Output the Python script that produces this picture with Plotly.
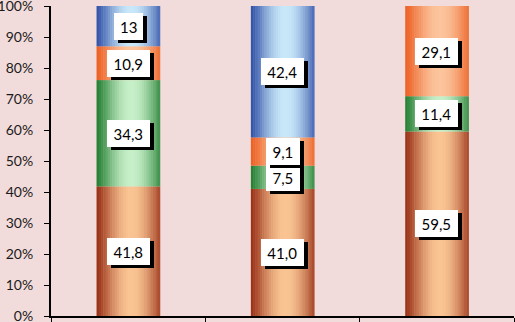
import plotly.graph_objects as go

categories = [1, 2, 3]
series_names = ["Copper", "Green", "Orange", "Blue"]
copper = [41.8, 41.0, 59.5]
green = [34.3, 7.5, 11.4]
orange = [10.9, 9.1, 29.1]
blue = [13.0, 42.4, 0.0]
copper_labels = ["41,8", "41,0", "59,5"]
green_labels = ["34,3", "7,5", "11,4"]
orange_labels = ["10,9", "9,1", "29,1"]
blue_labels = ["13", "42,4", ""]
y_ticks = [0, 10, 20, 30, 40, 50, 60, 70, 80, 90, 100]
y_tick_text = ["0%", "10%", "20%", "30%", "40%", "50%", "60%", "70%", "80%", "90%", "100%"]

series = [copper, green, orange, blue]
labels = [copper_labels, green_labels, orange_labels, blue_labels]
# (dark edge colour, light centre colour)
palette = [
    ((152, 48, 22), (250, 196, 146)),
    ((36, 126, 50), (198, 240, 200)),
    ((236, 96, 36), (252, 196, 156)),
    ((50, 82, 168), (200, 232, 250)),
]

BG = "#F2DCDB"
W = 0.41
N = 28


def light_weight(u):
    import math
    peak = 0.55
    if u <= peak:
        return math.sin(math.pi / 2 * u / peak) ** 1.2
    return 0.15 + 0.85 * math.cos(math.pi / 2 * (u - peak) / (1 - peak))


def mix(c1, c2, t):
    return "rgb(%d,%d,%d)" % tuple(round(a + (b - a) * t) for a, b in zip(c1, c2))


def text_width(txt):
    return sum(4.4 if ch == "," else 8.7 for ch in txt) + 4


# bases for stacking
bases = []
running = [0.0] * len(categories)
for s in series:
    bases.append(list(running))
    running = [r + v for r, v in zip(running, s)]

fig = go.Figure()
for k in range(N):
    u = (k + 0.5) / N
    t = light_weight(u)
    xs, ys, bs, cs = [], [], [], []
    for si, s in enumerate(series):
        for ci, cat in enumerate(categories):
            if s[ci] <= 0:
                continue
            xs.append(cat)
            ys.append(s[ci])
            bs.append(bases[si][ci])
            cs.append(mix(palette[si][0], palette[si][1], t))
    fig.add_trace(go.Bar(
        x=xs, y=ys, base=bs,
        width=W / N + 0.003, offset=-W / 2 + k * W / N,
        marker=dict(color=cs, line=dict(width=0)),
        showlegend=False, hoverinfo="skip",
    ))

annotations = []
for si, s in enumerate(series):
    for ci, cat in enumerate(categories):
        txt = labels[si][ci]
        if not txt:
            continue
        yc = bases[si][ci] + s[ci] / 2
        common = dict(x=cat, y=yc, xref="x", yref="y", showarrow=False,
                      borderpad=4, borderwidth=0, width=text_width(txt), height=19,
                      font=dict(family="Lato", size=15, color="black"))
        annotations.append(dict(common, text="\u00a0", bgcolor="black", xshift=4, yshift=-3))
        annotations.append(dict(common, text=txt, bgcolor="white"))

fig.update_layout(
    width=515, height=322,
    margin=dict(l=51, r=1, t=6, b=6),
    paper_bgcolor=BG, plot_bgcolor=BG,
    barmode="overlay",
    annotations=annotations,
    xaxis=dict(range=[0.5, 3.5], tickvals=[0.5, 1.5, 2.5, 3.5], ticks="outside",
               ticklen=6, tickcolor="black", showticklabels=False, showgrid=False,
               zeroline=False, showline=True, linecolor="black", linewidth=1.5,
               automargin=False),
    yaxis=dict(range=[0, 100], tickvals=y_ticks, ticktext=y_tick_text, ticks="outside",
               ticklen=5, tickcolor="black", showgrid=False, zeroline=False,
               showline=True, linecolor="black", linewidth=2,
               ticklabelstandoff=8, ticklabeloverflow="allow", automargin=False,
               tickfont=dict(family="Lato", size=14, color="#1a1a1a")),
)

fig.write_html("out.html", config={"displayModeBar": False},
               post_script="document.body.style.margin='0px';")
